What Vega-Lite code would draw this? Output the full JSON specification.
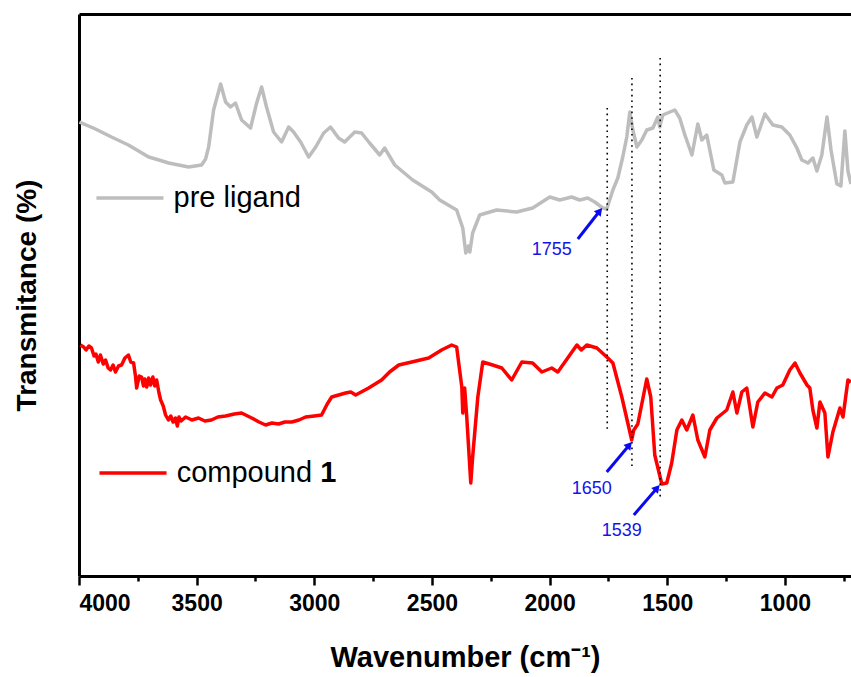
{
  "$schema": "https://vega.github.io/schema/vega-lite/v6.json",
  "width": 772,
  "height": 562,
  "autosize": {"type": "none"},
  "padding": {"left": 79, "top": 14, "right": 0, "bottom": 101},
  "background": "white",
  "config": {"view": {"stroke": null}, "font": "Liberation Sans"},
  "datasets": {
    "spectra": [
      {"wn": 3998, "T": 454, "s": "pre ligand"}, {"wn": 3930, "T": 447, "s": "pre ligand"}, {"wn": 3862, "T": 439, "s": "pre ligand"}, {"wn": 3790, "T": 431, "s": "pre ligand"},
      {"wn": 3704, "T": 419, "s": "pre ligand"}, {"wn": 3660, "T": 416, "s": "pre ligand"}, {"wn": 3619, "T": 413, "s": "pre ligand"}, {"wn": 3534, "T": 409, "s": "pre ligand"},
      {"wn": 3479, "T": 411, "s": "pre ligand"}, {"wn": 3462, "T": 417, "s": "pre ligand"}, {"wn": 3449, "T": 429, "s": "pre ligand"}, {"wn": 3428, "T": 466, "s": "pre ligand"},
      {"wn": 3398, "T": 492, "s": "pre ligand"}, {"wn": 3377, "T": 474, "s": "pre ligand"}, {"wn": 3356, "T": 469, "s": "pre ligand"},
      {"wn": 3335, "T": 473, "s": "pre ligand"}, {"wn": 3309, "T": 456, "s": "pre ligand"}, {"wn": 3271, "T": 448, "s": "pre ligand"},
      {"wn": 3245, "T": 473, "s": "pre ligand"}, {"wn": 3224, "T": 489, "s": "pre ligand"}, {"wn": 3203, "T": 469, "s": "pre ligand"},
      {"wn": 3173, "T": 444, "s": "pre ligand"}, {"wn": 3139, "T": 434, "s": "pre ligand"}, {"wn": 3109, "T": 449, "s": "pre ligand"},
      {"wn": 3088, "T": 444, "s": "pre ligand"}, {"wn": 3058, "T": 434, "s": "pre ligand"}, {"wn": 3024, "T": 419, "s": "pre ligand"},
      {"wn": 2994, "T": 429, "s": "pre ligand"}, {"wn": 2960, "T": 443, "s": "pre ligand"}, {"wn": 2931, "T": 449, "s": "pre ligand"},
      {"wn": 2897, "T": 438, "s": "pre ligand"}, {"wn": 2871, "T": 434, "s": "pre ligand"}, {"wn": 2828, "T": 444, "s": "pre ligand"},
      {"wn": 2799, "T": 443, "s": "pre ligand"}, {"wn": 2765, "T": 433, "s": "pre ligand"}, {"wn": 2722, "T": 421, "s": "pre ligand"},
      {"wn": 2701, "T": 428, "s": "pre ligand"}, {"wn": 2658, "T": 411, "s": "pre ligand"}, {"wn": 2582, "T": 396, "s": "pre ligand"},
      {"wn": 2501, "T": 384, "s": "pre ligand"}, {"wn": 2467, "T": 376, "s": "pre ligand"}, {"wn": 2395, "T": 366, "s": "pre ligand"},
      {"wn": 2369, "T": 348, "s": "pre ligand"}, {"wn": 2356, "T": 323, "s": "pre ligand"}, {"wn": 2345, "T": 330, "s": "pre ligand"},
      {"wn": 2339, "T": 324, "s": "pre ligand"}, {"wn": 2327, "T": 343, "s": "pre ligand"}, {"wn": 2297, "T": 361, "s": "pre ligand"},
      {"wn": 2225, "T": 366, "s": "pre ligand"}, {"wn": 2140, "T": 364, "s": "pre ligand"}, {"wn": 2072, "T": 368, "s": "pre ligand"},
      {"wn": 1999, "T": 379, "s": "pre ligand"}, {"wn": 1957, "T": 376, "s": "pre ligand"}, {"wn": 1906, "T": 379, "s": "pre ligand"},
      {"wn": 1872, "T": 376, "s": "pre ligand"}, {"wn": 1838, "T": 378, "s": "pre ligand"}, {"wn": 1808, "T": 374, "s": "pre ligand"},
      {"wn": 1774, "T": 368, "s": "pre ligand"}, {"wn": 1757, "T": 367, "s": "pre ligand"}, {"wn": 1731, "T": 386, "s": "pre ligand"},
      {"wn": 1710, "T": 398, "s": "pre ligand"}, {"wn": 1689, "T": 419, "s": "pre ligand"}, {"wn": 1672, "T": 439, "s": "pre ligand"},
      {"wn": 1659, "T": 464, "s": "pre ligand"}, {"wn": 1646, "T": 446, "s": "pre ligand"}, {"wn": 1629, "T": 429, "s": "pre ligand"},
      {"wn": 1608, "T": 436, "s": "pre ligand"}, {"wn": 1587, "T": 446, "s": "pre ligand"}, {"wn": 1561, "T": 448, "s": "pre ligand"},
      {"wn": 1540, "T": 459, "s": "pre ligand"}, {"wn": 1532, "T": 449, "s": "pre ligand"}, {"wn": 1519, "T": 461, "s": "pre ligand"},
      {"wn": 1468, "T": 466, "s": "pre ligand"}, {"wn": 1447, "T": 458, "s": "pre ligand"}, {"wn": 1425, "T": 441, "s": "pre ligand"},
      {"wn": 1395, "T": 421, "s": "pre ligand"}, {"wn": 1370, "T": 452, "s": "pre ligand"}, {"wn": 1353, "T": 436, "s": "pre ligand"},
      {"wn": 1332, "T": 441, "s": "pre ligand"}, {"wn": 1302, "T": 406, "s": "pre ligand"}, {"wn": 1268, "T": 401, "s": "pre ligand"},
      {"wn": 1255, "T": 393, "s": "pre ligand"}, {"wn": 1221, "T": 394, "s": "pre ligand"}, {"wn": 1191, "T": 434, "s": "pre ligand"},
      {"wn": 1162, "T": 451, "s": "pre ligand"}, {"wn": 1140, "T": 459, "s": "pre ligand"}, {"wn": 1119, "T": 439, "s": "pre ligand"},
      {"wn": 1085, "T": 462, "s": "pre ligand"}, {"wn": 1051, "T": 451, "s": "pre ligand"}, {"wn": 1013, "T": 449, "s": "pre ligand"},
      {"wn": 979, "T": 441, "s": "pre ligand"}, {"wn": 949, "T": 428, "s": "pre ligand"}, {"wn": 928, "T": 416, "s": "pre ligand"},
      {"wn": 902, "T": 413, "s": "pre ligand"}, {"wn": 881, "T": 418, "s": "pre ligand"}, {"wn": 864, "T": 405, "s": "pre ligand"},
      {"wn": 843, "T": 421, "s": "pre ligand"}, {"wn": 821, "T": 459, "s": "pre ligand"}, {"wn": 804, "T": 426, "s": "pre ligand"},
      {"wn": 779, "T": 392, "s": "pre ligand"}, {"wn": 762, "T": 390, "s": "pre ligand"}, {"wn": 745, "T": 445, "s": "pre ligand"},
      {"wn": 732, "T": 405, "s": "pre ligand"}, {"wn": 719, "T": 392, "s": "pre ligand"},

      {"wn": 3994, "T": 231, "s": "compound 1"}, {"wn": 3980, "T": 229, "s": "compound 1"}, {"wn": 3970, "T": 226, "s": "compound 1"}, {"wn": 3958, "T": 230, "s": "compound 1"}, {"wn": 3947, "T": 228, "s": "compound 1"},
      {"wn": 3936, "T": 220, "s": "compound 1"}, {"wn": 3928, "T": 222, "s": "compound 1"}, {"wn": 3918, "T": 214, "s": "compound 1"}, {"wn": 3909, "T": 221, "s": "compound 1"}, {"wn": 3897, "T": 212, "s": "compound 1"},
      {"wn": 3887, "T": 216, "s": "compound 1"}, {"wn": 3876, "T": 208, "s": "compound 1"}, {"wn": 3866, "T": 206, "s": "compound 1"}, {"wn": 3855, "T": 211, "s": "compound 1"},
      {"wn": 3845, "T": 204, "s": "compound 1"}, {"wn": 3832, "T": 210, "s": "compound 1"}, {"wn": 3819, "T": 211, "s": "compound 1"}, {"wn": 3805, "T": 218, "s": "compound 1"}, {"wn": 3790, "T": 221, "s": "compound 1"},
      {"wn": 3780, "T": 214, "s": "compound 1"}, {"wn": 3768, "T": 213, "s": "compound 1"}, {"wn": 3760, "T": 200, "s": "compound 1"}, {"wn": 3755, "T": 188, "s": "compound 1"}, {"wn": 3744, "T": 200, "s": "compound 1"},
      {"wn": 3734, "T": 199, "s": "compound 1"}, {"wn": 3726, "T": 190, "s": "compound 1"}, {"wn": 3720, "T": 197, "s": "compound 1"}, {"wn": 3712, "T": 189, "s": "compound 1"}, {"wn": 3704, "T": 198, "s": "compound 1"},
      {"wn": 3696, "T": 191, "s": "compound 1"}, {"wn": 3686, "T": 199, "s": "compound 1"}, {"wn": 3678, "T": 190, "s": "compound 1"}, {"wn": 3670, "T": 196, "s": "compound 1"}, {"wn": 3660, "T": 183, "s": "compound 1"}, {"wn": 3653, "T": 176, "s": "compound 1"},
      {"wn": 3642, "T": 170, "s": "compound 1"}, {"wn": 3632, "T": 161, "s": "compound 1"}, {"wn": 3620, "T": 156, "s": "compound 1"}, {"wn": 3610, "T": 160, "s": "compound 1"},
      {"wn": 3600, "T": 154, "s": "compound 1"}, {"wn": 3590, "T": 158, "s": "compound 1"}, {"wn": 3582, "T": 150, "s": "compound 1"}, {"wn": 3575, "T": 159, "s": "compound 1"}, {"wn": 3566, "T": 155, "s": "compound 1"},
      {"wn": 3547, "T": 159, "s": "compound 1"}, {"wn": 3520, "T": 156, "s": "compound 1"}, {"wn": 3492, "T": 158, "s": "compound 1"}, {"wn": 3465, "T": 155, "s": "compound 1"}, {"wn": 3437, "T": 156, "s": "compound 1"},
      {"wn": 3410, "T": 159, "s": "compound 1"}, {"wn": 3377, "T": 160, "s": "compound 1"}, {"wn": 3340, "T": 162, "s": "compound 1"}, {"wn": 3309, "T": 163, "s": "compound 1"}, {"wn": 3266, "T": 158, "s": "compound 1"},
      {"wn": 3235, "T": 154, "s": "compound 1"}, {"wn": 3207, "T": 151, "s": "compound 1"}, {"wn": 3180, "T": 153, "s": "compound 1"}, {"wn": 3152, "T": 152, "s": "compound 1"}, {"wn": 3125, "T": 154, "s": "compound 1"}, {"wn": 3096, "T": 154, "s": "compound 1"},
      {"wn": 3065, "T": 156, "s": "compound 1"}, {"wn": 3037, "T": 159, "s": "compound 1"}, {"wn": 3000, "T": 160, "s": "compound 1"}, {"wn": 2969, "T": 161, "s": "compound 1"}, {"wn": 2945, "T": 172, "s": "compound 1"}, {"wn": 2926, "T": 179, "s": "compound 1"},
      {"wn": 2867, "T": 183, "s": "compound 1"}, {"wn": 2845, "T": 184, "s": "compound 1"}, {"wn": 2824, "T": 181, "s": "compound 1"},
      {"wn": 2769, "T": 188, "s": "compound 1"}, {"wn": 2714, "T": 196, "s": "compound 1"}, {"wn": 2680, "T": 204, "s": "compound 1"}, {"wn": 2641, "T": 211, "s": "compound 1"},
      {"wn": 2586, "T": 214, "s": "compound 1"}, {"wn": 2514, "T": 218, "s": "compound 1"}, {"wn": 2459, "T": 226, "s": "compound 1"},
      {"wn": 2416, "T": 231, "s": "compound 1"}, {"wn": 2395, "T": 229, "s": "compound 1"}, {"wn": 2373, "T": 189, "s": "compound 1"},
      {"wn": 2369, "T": 163, "s": "compound 1"}, {"wn": 2361, "T": 188, "s": "compound 1"}, {"wn": 2352, "T": 159, "s": "compound 1"},
      {"wn": 2335, "T": 93, "s": "compound 1"}, {"wn": 2327, "T": 119, "s": "compound 1"}, {"wn": 2305, "T": 179, "s": "compound 1"},
      {"wn": 2284, "T": 214, "s": "compound 1"}, {"wn": 2242, "T": 211, "s": "compound 1"}, {"wn": 2203, "T": 208, "s": "compound 1"},
      {"wn": 2161, "T": 196, "s": "compound 1"}, {"wn": 2118, "T": 214, "s": "compound 1"}, {"wn": 2072, "T": 213, "s": "compound 1"},
      {"wn": 2033, "T": 204, "s": "compound 1"}, {"wn": 1991, "T": 208, "s": "compound 1"}, {"wn": 1965, "T": 204, "s": "compound 1"},
      {"wn": 1923, "T": 218, "s": "compound 1"}, {"wn": 1884, "T": 231, "s": "compound 1"}, {"wn": 1865, "T": 226, "s": "compound 1"},
      {"wn": 1842, "T": 231, "s": "compound 1"}, {"wn": 1799, "T": 228, "s": "compound 1"}, {"wn": 1757, "T": 219, "s": "compound 1"},
      {"wn": 1731, "T": 213, "s": "compound 1"}, {"wn": 1693, "T": 179, "s": "compound 1"}, {"wn": 1651, "T": 136, "s": "compound 1"},
      {"wn": 1642, "T": 146, "s": "compound 1"}, {"wn": 1625, "T": 152, "s": "compound 1"}, {"wn": 1587, "T": 197, "s": "compound 1"},
      {"wn": 1570, "T": 179, "s": "compound 1"}, {"wn": 1553, "T": 121, "s": "compound 1"}, {"wn": 1523, "T": 92, "s": "compound 1"},
      {"wn": 1502, "T": 93, "s": "compound 1"}, {"wn": 1481, "T": 113, "s": "compound 1"}, {"wn": 1459, "T": 146, "s": "compound 1"},
      {"wn": 1438, "T": 156, "s": "compound 1"}, {"wn": 1417, "T": 146, "s": "compound 1"}, {"wn": 1391, "T": 161, "s": "compound 1"},
      {"wn": 1370, "T": 136, "s": "compound 1"}, {"wn": 1340, "T": 119, "s": "compound 1"}, {"wn": 1319, "T": 146, "s": "compound 1"},
      {"wn": 1289, "T": 158, "s": "compound 1"}, {"wn": 1247, "T": 166, "s": "compound 1"}, {"wn": 1221, "T": 184, "s": "compound 1"},
      {"wn": 1204, "T": 163, "s": "compound 1"}, {"wn": 1183, "T": 184, "s": "compound 1"}, {"wn": 1162, "T": 188, "s": "compound 1"},
      {"wn": 1136, "T": 149, "s": "compound 1"}, {"wn": 1115, "T": 174, "s": "compound 1"}, {"wn": 1085, "T": 183, "s": "compound 1"},
      {"wn": 1055, "T": 179, "s": "compound 1"}, {"wn": 1034, "T": 188, "s": "compound 1"}, {"wn": 1009, "T": 191, "s": "compound 1"},
      {"wn": 979, "T": 206, "s": "compound 1"}, {"wn": 957, "T": 213, "s": "compound 1"}, {"wn": 936, "T": 203, "s": "compound 1"},
      {"wn": 906, "T": 191, "s": "compound 1"}, {"wn": 894, "T": 188, "s": "compound 1"}, {"wn": 881, "T": 166, "s": "compound 1"},
      {"wn": 864, "T": 148, "s": "compound 1"}, {"wn": 851, "T": 174, "s": "compound 1"}, {"wn": 830, "T": 163, "s": "compound 1"},
      {"wn": 817, "T": 119, "s": "compound 1"}, {"wn": 796, "T": 144, "s": "compound 1"}, {"wn": 766, "T": 168, "s": "compound 1"},
      {"wn": 753, "T": 159, "s": "compound 1"}, {"wn": 732, "T": 196, "s": "compound 1"}, {"wn": 719, "T": 194, "s": "compound 1"}
    ],
    "vlines": [
      {"wn": 1755, "top": 468, "bottom": 146},
      {"wn": 1650, "top": 498, "bottom": 106},
      {"wn": 1530, "top": 518, "bottom": 79}
    ],
    "arrows": [
      {"x1": 1880, "y1": 337, "x2": 1787, "y2": 365, "angle": 39, "label": "1755", "lx": 1991, "ly": 326},
      {"x1": 1757, "y1": 104, "x2": 1661, "y2": 131, "angle": 40, "label": "1650", "lx": 1821, "ly": 87},
      {"x1": 1642, "y1": 61, "x2": 1543, "y2": 88, "angle": 41, "label": "1539", "lx": 1693, "ly": 45}
    ],
    "legendLines": [
      {"wn": 3926, "T": 378, "s": "pre ligand"}, {"wn": 3641, "T": 378, "s": "pre ligand"},
      {"wn": 3913, "T": 103, "s": "compound 1"}, {"wn": 3628, "T": 103, "s": "compound 1"}
    ],
    "legendText": [
      {"wn": 3598, "T": 369, "text": "pre ligand", "w": "normal"},
      {"wn": 3585, "T": 94, "text": "compound", "w": "normal"}
    ],
    "legendBold": [
      {"wn": 2975, "T": 94, "text": "1"}
    ]
  },
  "resolve": {"axis": {"x": "independent", "y": "independent"}},
  "layer": [
    {
      "data": {"name": "spectra"},
      "mark": {"type": "line", "strokeWidth": 3.5, "clip": true, "strokeJoin": "round"},
      "encoding": {
        "x": {
          "field": "wn", "type": "quantitative",
          "scale": {"domain": [4000, 719], "nice": false, "zero": false},
          "axis": {
            "orient": "bottom", "grid": false,
            "values": [4000, 3750, 3500, 3250, 3000, 2750, 2500, 2250, 2000, 1750, 1500, 1250, 1000, 750],
            "format": "d",
            "labelExpr": "datum.value % 500 === 0 ? datum.label : ''",
            "tickSize": {"condition": {"test": "datum.value % 500 === 0", "value": 9}, "value": 5},
            "tickWidth": 2.5, "tickColor": "black",
            "domainColor": "black", "domainWidth": 3,
            "labelFont": "Liberation Sans", "labelFontSize": 23, "labelFontWeight": "bold", "labelColor": "black",
            "labelPadding": 7, "labelOverlap": false,
            "title": "Wavenumber (cm⁻¹)",
            "titleFont": "Liberation Sans", "titleFontSize": 29, "titleFontWeight": "bold", "titleColor": "black",
            "titlePadding": 28
          }
        },
        "y": {
          "field": "T", "type": "quantitative",
          "scale": {"domain": [0, 562], "nice": false, "zero": false},
          "axis": {
            "orient": "left", "grid": false, "labels": false, "ticks": false,
            "domainColor": "black", "domainWidth": 3,
            "title": "Transmitance (%)",
            "titleFont": "Liberation Sans", "titleFontSize": 28, "titleFontWeight": "bold", "titleColor": "black",
            "titlePadding": 38
          }
        },
        "color": {"field": "s", "type": "nominal", "scale": {"domain": ["pre ligand", "compound 1"], "range": ["#bdbdbd", "#ff0000"]}, "legend": null},
        "detail": {"field": "s"}
      }
    },
    {
      "data": {"name": "vlines"},
      "mark": {"type": "rule", "color": "black", "strokeWidth": 1.6, "strokeDash": [1.6, 4]},
      "encoding": {
        "x": {"field": "wn", "type": "quantitative",
          "axis": {"orient": "top", "labels": false, "ticks": false, "grid": false, "domainColor": "black", "domainWidth": 3, "title": null}},
        "y": {"field": "top", "type": "quantitative", "axis": null},
        "y2": {"field": "bottom"}
      }
    },
    {
      "data": {"name": "arrows"},
      "mark": {"type": "rule", "color": "#0a0af0", "strokeWidth": 3},
      "encoding": {
        "x": {"field": "x1", "type": "quantitative", "axis": null},
        "y": {"field": "y1", "type": "quantitative", "axis": null},
        "x2": {"field": "x2"},
        "y2": {"field": "y2"}
      }
    },
    {
      "data": {"name": "arrows"},
      "mark": {"type": "point", "shape": "triangle-up", "filled": true, "color": "#0a0af0", "size": 80, "opacity": 1},
      "encoding": {
        "x": {"field": "x2", "type": "quantitative", "axis": null},
        "y": {"field": "y2", "type": "quantitative", "axis": null},
        "angle": {"field": "angle", "type": "quantitative", "scale": null}
      }
    },
    {
      "data": {"name": "arrows"},
      "mark": {"type": "text", "color": "#1414e6", "fontSize": 18, "font": "Liberation Sans", "align": "center", "baseline": "middle"},
      "encoding": {
        "x": {"field": "lx", "type": "quantitative", "axis": null},
        "y": {"field": "ly", "type": "quantitative", "axis": null},
        "text": {"field": "label"}
      }
    },
    {
      "data": {"name": "legendLines"},
      "mark": {"type": "line", "strokeWidth": 3.5},
      "encoding": {
        "x": {"field": "wn", "type": "quantitative", "axis": null},
        "y": {"field": "T", "type": "quantitative", "axis": null},
        "color": {"field": "s", "type": "nominal", "legend": null},
        "detail": {"field": "s"}
      }
    },
    {
      "data": {"name": "legendText"},
      "mark": {"type": "text", "color": "black", "fontSize": 29, "font": "Liberation Sans", "align": "left", "baseline": "alphabetic"},
      "encoding": {
        "x": {"field": "wn", "type": "quantitative", "axis": null},
        "y": {"field": "T", "type": "quantitative", "axis": null},
        "text": {"field": "text"}
      }
    },
    {
      "data": {"name": "legendBold"},
      "mark": {"type": "text", "color": "black", "fontSize": 29, "fontWeight": "bold", "font": "Liberation Sans", "align": "left", "baseline": "alphabetic"},
      "encoding": {
        "x": {"field": "wn", "type": "quantitative", "axis": null},
        "y": {"field": "T", "type": "quantitative", "axis": null},
        "text": {"field": "text"}
      }
    }
  ]
}
